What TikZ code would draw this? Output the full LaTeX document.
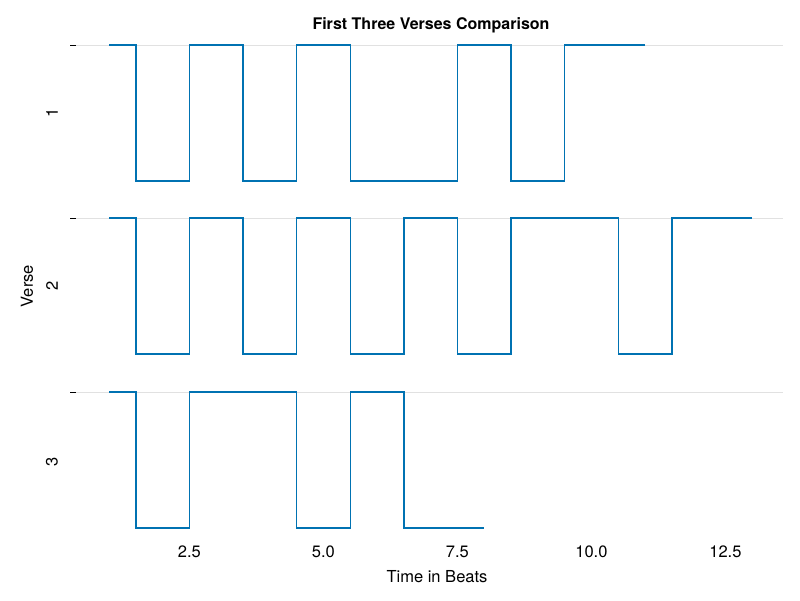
\documentclass[tikz,border=0pt]{standalone}
\usepackage{fontspec}
\setmainfont{TeX Gyre Heros}
\begin{document}
\begin{tikzpicture}[x=1pt,y=-1pt,
  sig/.style={draw={rgb,255:red,0;green,114;blue,178},line width=1.4pt},
  grid/.style={draw={rgb,255:red,225;green,225;blue,225},line width=0.8pt},
  lbl/.style={font=\fontsize{16.5}{19}\selectfont}]
\useasboundingbox (0,0) rectangle (800,600);
\fill[white] (0,0) rectangle (800,600);
\def\X#1{109+(#1-1)*53.6}
% grid & ticks
\foreach \y/\n in {45/1,218/2,392/3}{
  \draw[grid] (76,\y) -- (783,\y);
  \draw[line width=0.8pt] (70,\y) -- (76,\y);
}
\node[lbl,rotate=90] (l1) at (52,113) {1};
\node[lbl,rotate=90] (l2) at (52,286) {2};
\node[lbl,rotate=90] (l3) at (52,462) {3};
\node[lbl,rotate=90] (yl) at (27,286) {Verse};
\foreach \v in {2.5,5.0,7.5,10.0,12.5}{
  \node[lbl] at ({109+(\v-1)*53.6},552) {\v};
}
\node[lbl] (xl) at (437,577) {Time in Beats};
\node[font=\bfseries\fontsize{16}{19}\selectfont] (title) at (431,25) {First Three Verses Comparison};
% verse 1
\draw[sig] ({\X{1}},45) -- ({\X{1.5}},45) -- ({\X{1.5}},181) -- ({\X{2.5}},181) -- ({\X{2.5}},45)
  -- ({\X{3.5}},45) -- ({\X{3.5}},181) -- ({\X{4.5}},181) -- ({\X{4.5}},45)
  -- ({\X{5.5}},45) -- ({\X{5.5}},181) -- ({\X{7.5}},181) -- ({\X{7.5}},45)
  -- ({\X{8.5}},45) -- ({\X{8.5}},181) -- ({\X{9.5}},181) -- ({\X{9.5}},45) -- ({\X{11}},45);
% verse 2
\draw[sig] ({\X{1}},218) -- ({\X{1.5}},218) -- ({\X{1.5}},354) -- ({\X{2.5}},354) -- ({\X{2.5}},218)
  -- ({\X{3.5}},218) -- ({\X{3.5}},354) -- ({\X{4.5}},354) -- ({\X{4.5}},218)
  -- ({\X{5.5}},218) -- ({\X{5.5}},354) -- ({\X{6.5}},354) -- ({\X{6.5}},218)
  -- ({\X{7.5}},218) -- ({\X{7.5}},354) -- ({\X{8.5}},354) -- ({\X{8.5}},218)
  -- ({\X{10.5}},218) -- ({\X{10.5}},354) -- ({\X{11.5}},354) -- ({\X{11.5}},218) -- ({\X{13}},218);
% verse 3
\draw[sig] ({\X{1}},392) -- ({\X{1.5}},392) -- ({\X{1.5}},528) -- ({\X{2.5}},528) -- ({\X{2.5}},392)
  -- ({\X{4.5}},392) -- ({\X{4.5}},528) -- ({\X{5.5}},528) -- ({\X{5.5}},392)
  -- ({\X{6.5}},392) -- ({\X{6.5}},528) -- ({\X{8}},528);
\end{tikzpicture}
\end{document}
